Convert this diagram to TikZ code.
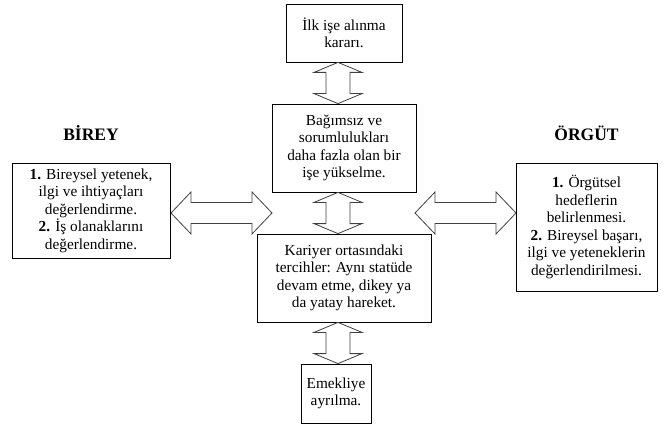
\documentclass[tikz,border=0pt]{standalone}
\usepackage{fontspec}
\setmainfont{Liberation Serif}
\usetikzlibrary{calc}
\tikzset{
  box/.style={draw=black, line width=0.8pt, inner sep=0pt, align=center,
    font=\fontsize{15.3}{17.5}\selectfont},
  title/.style={inner sep=0pt, font=\fontsize{17.5}{20}\selectfont\bfseries},
  arr/.style={draw=black!75, line width=0.8pt, fill=white, line join=miter},
}
\newcommand{\vdarrow}[2]{%
  \draw[arr] let \p1=(#1), \p2=(#2) in
    (\x1,\y1) -- ({\x1+24pt},{\y1-10pt}) -- ({\x1+12pt},{\y1-10pt})
    -- ({\x1+12pt},{\y2+10pt}) -- ({\x1+24pt},{\y2+10pt}) -- (\x2,\y2)
    -- ({\x1-24pt},{\y2+10pt}) -- ({\x1-12pt},{\y2+10pt})
    -- ({\x1-12pt},{\y1-10pt}) -- ({\x1-24pt},{\y1-10pt}) -- cycle;}
\newcommand{\hdarrow}[2]{%
  \draw[arr] let \p1=(#1), \p2=(#2) in
    (\x1,\y1) -- ({\x1+20pt},{\y1+21pt}) -- ({\x1+20pt},{\y1+10.5pt})
    -- ({\x2-20pt},{\y1+10.5pt}) -- ({\x2-20pt},{\y1+21pt}) -- (\x2,\y1)
    -- ({\x2-20pt},{\y1-21pt}) -- ({\x2-20pt},{\y1-10.5pt})
    -- ({\x1+20pt},{\y1-10.5pt}) -- ({\x1+20pt},{\y1-21pt}) -- cycle;}
\begin{document}
\begin{tikzpicture}[x=1pt,y=-1pt]
\useasboundingbox (0,0) rectangle (664,425);
\node[box, minimum width=116pt, minimum height=58pt] (top) at (344,33)
  {İlk işe alınma\\kararı.};
\node[box, minimum width=144pt, minimum height=88pt] (mid) at (344,148)
  {Bağımsız ve\\sorumlulukları\\daha fazla olan bir\\işe yükselme.};
\node[box, minimum width=174pt, minimum height=88pt] (kar) at (344,278)
  {Kariyer ortasındaki\\tercihler: Aynı statüde\\devam etme, dikey ya\\da yatay hareket.};
\node[box, minimum width=70pt, minimum height=59pt] (eme) at (336,393.5)
  {Emekliye\\ayrılma.};
\node[box, minimum width=158pt, minimum height=95pt] (left) at (91,210.5)
  {\textbf{1.} Bireysel yetenek,\\ilgi ve ihtiyaçları\\değerlendirme.\\\textbf{2.} İş olanaklarını\\değerlendirme.};
\node[box, minimum width=141pt, minimum height=128pt] (right) at (586.5,227)
  {\textbf{1.} Örgütsel\\hedeflerin\\belirlenmesi.\\\textbf{2.} Bireysel başarı,\\ilgi ve yeteneklerin\\değerlendirilmesi.};
\node[title] (birey) at (91,133) {BİREY};
\node[title] (orgut) at (586.5,133) {ÖRGÜT};
\coordinate (ax) at (338,0);
\coordinate (hl1) at (171,213);
\coordinate (hl2) at (272,213);
\coordinate (hr1) at (415,213);
\coordinate (hr2) at (516,213);
\vdarrow{top.south -| ax}{mid.north -| ax}
\vdarrow{mid.south -| ax}{kar.north -| ax}
\vdarrow{kar.south -| ax}{eme.north -| ax}
\hdarrow{hl1}{hl2}
\hdarrow{hr1}{hr2}
\end{tikzpicture}
\end{document}
